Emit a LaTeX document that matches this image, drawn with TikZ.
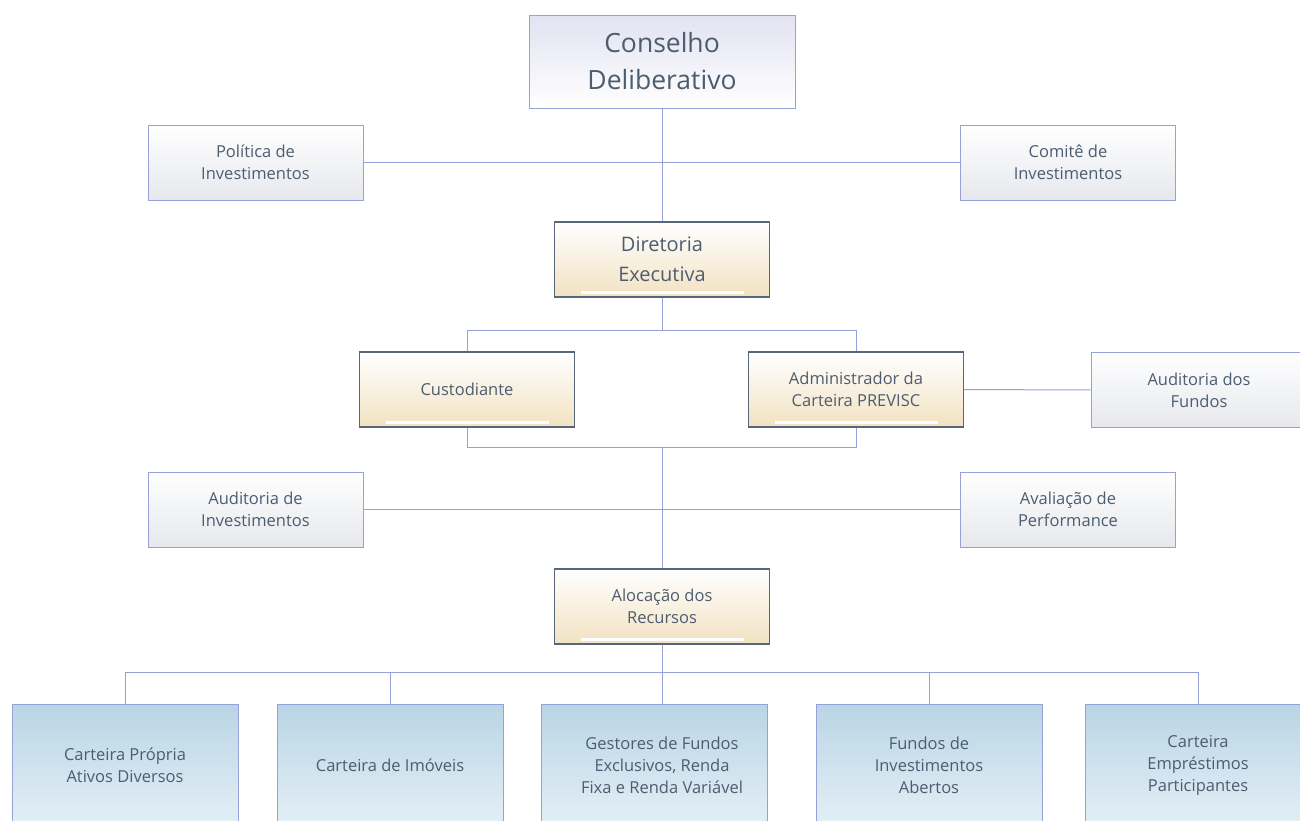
\documentclass[tikz,border=0pt]{standalone}
\usepackage{fontspec}
\setmainfont{Open Sans}
\usepackage{tikz}
\usetikzlibrary{positioning}

\definecolor{linkcol}{HTML}{97A1D8}
\definecolor{txtcol}{HTML}{4D5D70}
\definecolor{lavtop}{HTML}{E2E2F2}
\definecolor{sidebot}{HTML}{E6E8EC}
\definecolor{beigebot}{HTML}{F2E2C2}
\definecolor{execdraw}{HTML}{58667A}
\definecolor{leaftop}{HTML}{B9D5E5}
\definecolor{leafbot}{HTML}{E4EFF6}

\tikzset{
  link/.style={draw=linkcol, line width=1pt},
  basebox/.style={rectangle, align=center, text=txtcol, inner sep=0pt,
    font=\fontsize{16.5}{22}\selectfont},
  headbox/.style={basebox, draw=linkcol, line width=1pt, top color=lavtop, bottom color=white,
    minimum width=266pt, minimum height=93pt, font=\fontsize{26.5}{37}\selectfont},
  sidebox/.style={basebox, draw=linkcol, line width=0.8pt, top color=white, bottom color=sidebot,
    minimum width=215pt, minimum height=75pt},
  execbox/.style={basebox, draw=execdraw, line width=1.2pt, top color=white, bottom color=beigebot,
    minimum width=215pt, minimum height=75pt,
    path picture={\draw[white, line width=2.8pt]
      ([shift={(26pt,4.5pt)}]path picture bounding box.south west) --
      ([shift={(-26pt,4.5pt)}]path picture bounding box.south east);}},
  leafbox/.style={basebox, draw=linkcol, line width=1pt, top color=leaftop, bottom color=leafbot,
    minimum width=226pt, minimum height=122pt},
}

\begin{document}
\begin{tikzpicture}[x=1pt, y=-1pt]
\useasboundingbox (0,0) rectangle (1300,820);
\clip (0,0) rectangle (1300,820);

% top level
\node[headbox] (cons) at (662,61.5) {Conselho\\Deliberativo};
\node[sidebox] (pol) at (255.5,162.5) {Política de\\Investimentos};
\node[sidebox] (com) at (1068,162.5) {Comitê de\\Investimentos};
\node[execbox, font=\fontsize{20}{30}\selectfont] (dir) at (662,259.5) {Diretoria\\Executiva};

% middle level
\node[execbox] (cust) at (467,389.5) {Custodiante};
\node[execbox] (adm) at (856,389.5) {Administrador da\\Carteira PREVISC};
\node[sidebox, minimum width=226pt] (audf) at (1204,390) {\hspace*{-10pt}Auditoria dos\\\hspace*{-10pt}Fundos};
\node[sidebox] (audi) at (255.5,509.5) {Auditoria de\\Investimentos};
\node[sidebox] (aval) at (1068,509.5) {Avaliação de\\Performance};
\node[execbox] (aloc) at (662,606.5) {Alocação dos\\Recursos};

% bottom row
\node[leafbox] (l1) at (125,765) {Carteira Própria\\Ativos Diversos};
\node[leafbox] (l2) at (390,765) {Carteira de Imóveis};
\node[leafbox] (l3) at (654.5,765) {\hspace*{15pt}Gestores de Fundos\\\hspace*{15pt}Exclusivos, Renda\\\hspace*{15pt}Fixa e Renda Variável};
\node[leafbox] (l4) at (929,765) {Fundos de\\Investimentos\\Abertos};
\node[leafbox, minimum width=236pt] (l5) at (1203,765) {\hspace*{-10pt}Carteira\\\hspace*{-10pt}Empréstimos\\\hspace*{-10pt}Participantes};

\coordinate (jtop) at (662,330);
\coordinate (jmid) at (662,447);
\coordinate (jbot) at (662,672);

% connectors
\draw[link] (cons) -- (dir);
\draw[link] (pol) -- (com);
\draw[link] (dir) -- (jtop) -| (cust);
\draw[link] (jtop) -| (adm);
\draw[link] (adm) -- (audf);
\draw[link] (cust) |- (jmid) -| (adm);
\draw[link] (jmid) -- (aloc);
\draw[link] (audi) -- (aval);
\draw[link] (aloc) -- (aloc |- l3.north);
\foreach \n in {l1,l2,l4}
  \draw[link] (jbot) -| (\n);
\draw[link] (jbot) -| ([xshift=-5pt]l5.north);
\end{tikzpicture}
\end{document}
